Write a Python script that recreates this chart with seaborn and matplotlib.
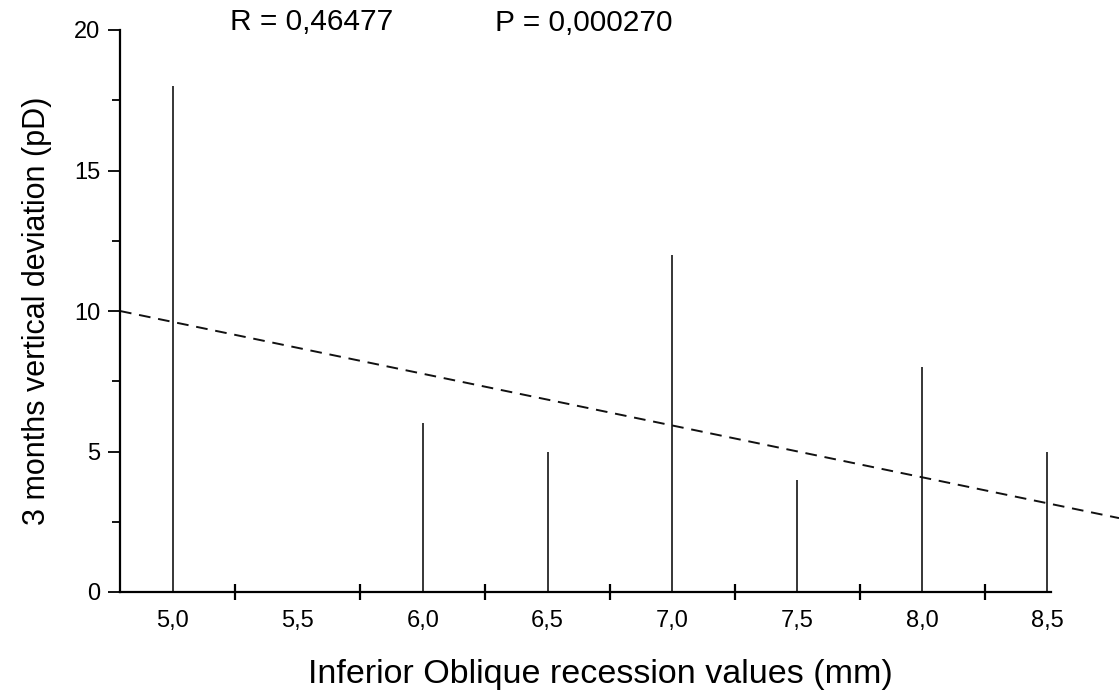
import matplotlib
matplotlib.use("Agg")
import matplotlib.pyplot as plt
import seaborn as sns
import numpy as np
import pandas as pd

sns.set_theme(style="ticks")
plt.rcParams["font.family"] = ["Liberation Sans", "DejaVu Sans"]
plt.rcParams["text.color"] = "black"
plt.rcParams["axes.labelcolor"] = "black"
plt.rcParams["xtick.color"] = "black"
plt.rcParams["ytick.color"] = "black"
plt.rcParams["axes.edgecolor"] = "black"

# values
recession_mm = [5.0, 6.0, 6.5, 7.0, 7.5, 8.0, 8.5]
deviation_pd = [18, 6, 5, 12, 4, 8, 5]
tick_labels = ["5,0", "5,5", "6,0", "6,5", "7,0", "7,5", "8,0", "8,5"]
tick_pos = [5.0, 5.5, 6.0, 6.5, 7.0, 7.5, 8.0, 8.5]
# regression line end points (dashed)
trend_x = [4.788, 8.788]
trend_y = [10.0, 2.63]
r_text = "R = 0,46477"
p_text = "P = 0,000270"

df = pd.DataFrame({"x": recession_mm, "y": deviation_pd})
trend = pd.DataFrame({"x": trend_x, "y": trend_y})

fig = plt.figure(figsize=(11.19, 6.97), dpi=100)
ax = fig.add_axes([120 / 1119, 105 / 697, 999 / 1119, 562 / 697])

ax.vlines(df["x"], 0, df["y"], colors="black", linewidth=1.1)
sns.lineplot(data=trend, x="x", y="y", ax=ax, color="#111111",
             linewidth=1.4, linestyle=(0, (6, 4)), clip_on=False)

ax.set_xlim(4.788, 8.788)
ax.set_ylim(0, 20)

for side in ["top", "right"]:
    ax.spines[side].set_visible(False)
ax.spines["left"].set_linewidth(1.6)
ax.spines["bottom"].set_linewidth(1.6)
ax.spines["bottom"].set_bounds(4.788, 8.515)

ax.set_xticks(tick_pos)
ax.set_xticklabels(tick_labels)
ax.set_xticks([p + 0.25 for p in tick_pos[:-1]], minor=True)
ax.tick_params(axis="x", which="major", length=0, pad=13, labelsize=17)
ax.tick_params(axis="x", which="minor", direction="inout", length=12, width=1.6)

ax.set_yticks([0, 5, 10, 15, 20])
ax.set_yticks([2.5, 7.5, 12.5, 17.5], minor=True)
ax.tick_params(axis="y", which="major", direction="out", length=9, width=1.3,
               pad=5, labelsize=17)
ax.tick_params(axis="y", which="minor", direction="out", length=6, width=1.3)

ax.set_xlabel("Inferior Oblique recession values (mm)", fontsize=24.5)
ax.xaxis.set_label_coords(0.481, -0.12)
ax.set_ylabel("3 months vertical deviation (pD)", fontsize=22, labelpad=16)

ax.text(5.228, 20.3, r_text, fontsize=21.5, va="center", ha="left", clip_on=False)
ax.text(6.29, 20.25, p_text, fontsize=21.5, va="center", ha="left", clip_on=False)

fig.savefig("out.png", dpi=100)
